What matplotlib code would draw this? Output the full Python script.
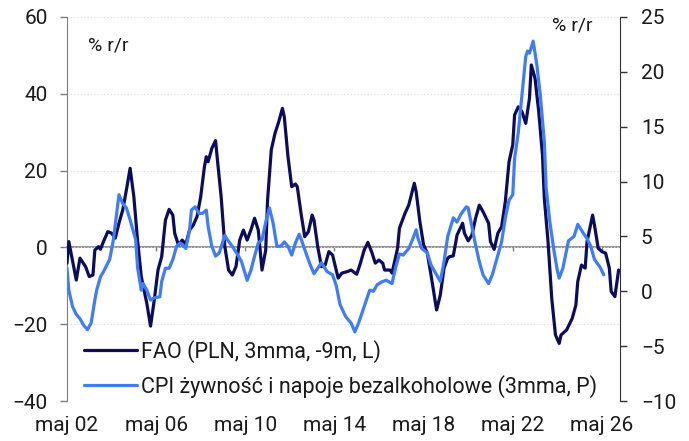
import matplotlib
matplotlib.use("Agg")
import matplotlib.pyplot as plt

# data ------------------------------------------------------------------------
# x = months counted from May 2002 (left edge of the chart)
fao_month = [
    0, 1, 5, 7, 10, 12, 14, 15, 17, 18, 20, 22, 24, 26, 28, 30, 32, 34, 36, 38,
    40, 43, 45, 47, 49, 51, 53, 55, 57, 58, 60, 62, 64, 66, 68, 70, 72, 74, 75,
    76, 78, 80, 81, 83, 85, 87, 89, 91, 93, 95, 97, 99, 101, 103, 105, 107, 108,
    110, 112, 114, 116, 117, 119, 121, 123, 124, 126, 128, 130, 132, 133, 135,
    137, 139, 141, 143, 146, 148, 151, 153, 156, 158, 160, 162, 164, 166, 168,
    170, 171, 174, 175, 178, 179, 182, 184, 187, 188, 190, 192, 194, 196, 199,
    201, 203, 205, 206, 208, 210, 213, 214, 216, 218, 220, 222, 224, 227, 228,
    230, 232, 234, 236, 238, 240, 241, 243, 245, 247, 249, 250, 252, 254, 256,
    257, 259, 261, 263, 265, 266, 269, 272, 274, 275, 277, 279, 280, 283, 284,
    286, 288, 290, 292, 293, 295, 297,
]
fao_value = [
    -4.1, 1.5, -8.5, -2.8, -5.0, -7.6, -7.2, -0.7, 0.2, -0.5, 1.9, 4.1, 3.7, 2.4,
    6.3, 9.7, 15.0, 20.6, 13.2, 1.9, -7.6, -14.6, -20.5, -13.7, -5.9, -2.4, 7.1,
    9.9, 8.4, 3.7, 0.6, 1.9, 0.9, 4.5, 5.8, 8.0, 13.2, 21.0, 23.6, 22.3, 25.8,
    27.8, 22.8, 13.2, 0.2, -5.9, -7.2, -5.0, 1.9, 4.5, 1.9, 4.5, 7.6, 4.5, -5.9,
    -0.7, 12.3, 25.4, 29.7, 32.7, 36.2, 34.0, 23.6, 15.8, 16.5, 15.8, 8.9, 2.8,
    4.1, 8.4, 7.1, 0.2, -5.0, -4.6, -1.1, -2.0, -8.0, -6.7, -6.3, -5.9, -7.0,
    -4.1, -0.7, 1.3, -1.1, -4.1, -3.3, -4.1, -5.9, -5.9, -6.7, -0.2, 5.0, 8.9,
    11.0, 16.7, 14.5, 6.7, 0.6, -1.5, -7.2, -16.3, -12.4, -5.4, -2.8, -2.4, -2.2,
    3.2, 6.3, 3.7, 1.7, 3.2, 7.6, 11.0, 9.3, 6.3, 1.5, -0.5, 3.7, 5.4, 11.9,
    22.3, 26.7, 34.5, 36.6, 35.3, 32.3, 38.8, 47.5, 44.0, 35.3, 24.1, 12.8, 1.5,
    -13.3, -22.8, -25.0, -22.8, -21.5, -18.5, -15.0, -8.9, -4.6, -5.4, 1.5, 8.4,
    5.8, -0.2, -1.1, -1.5, -5.4, -11.5, -12.8, -5.9,
]

cpi_month = [
    0, 1, 3, 5, 7, 9, 11, 13, 15, 16, 18, 20, 23, 25, 27, 28, 30, 32, 34, 37, 38,
    40, 41, 43, 45, 47, 50, 51, 53, 55, 57, 59, 61, 64, 66, 67, 69, 71, 73, 75,
    76, 78, 80, 82, 85, 86, 89, 92, 94, 97, 99, 101, 103, 105, 107, 109, 111,
    113, 115, 117, 119, 121, 123, 125, 126, 128, 131, 133, 135, 137, 140, 143,
    145, 147, 150, 153, 155, 157, 159, 161, 163, 165, 167, 170, 172, 175, 177,
    179, 181, 184, 186, 188, 189, 191, 194, 196, 199, 201, 203, 205, 208, 210,
    212, 215, 216, 218, 220, 222, 224, 227, 229, 231, 234, 236, 238, 240, 241,
    243, 245, 247, 248, 249, 251, 253, 255, 257, 258, 260, 262, 264, 265, 267,
    269, 270, 273, 275, 278, 280, 282, 284, 287, 289,
]
cpi_value = [
    2.1, 0.1, -1.4, -2.1, -2.5, -3.1, -3.5, -2.9, -0.8, 0.1, 1.3, 1.9, 2.9, 4.7,
    7.4, 8.8, 8.0, 7.6, 6.5, 4.7, 2.2, 0.1, 0.7, 0.1, -0.8, -0.6, -0.5, 0.9, 2.1,
    2.1, 2.9, 4.1, 4.4, 3.9, 5.6, 7.4, 7.7, 7.1, 7.1, 7.4, 5.9, 4.1, 3.2, 3.5,
    5.1, 4.8, 4.1, 3.3, 2.7, 1.0, 1.9, 3.2, 4.4, 4.7, 6.3, 7.6, 6.2, 4.1, 4.1,
    4.5, 4.1, 3.3, 4.4, 5.2, 4.8, 3.8, 2.4, 1.6, 2.1, 2.6, 1.8, 1.5, 0.5, -1.2,
    -2.3, -2.9, -3.7, -2.9, -1.9, -0.9, 0.1, 0.0, 0.6, 0.9, 1.0, 0.7, 2.2, 3.4,
    3.3, 3.9, 4.7, 5.6, 4.8, 3.9, 3.5, 2.4, 1.5, 0.9, 2.7, 5.0, 6.7, 6.3, 7.0,
    7.7, 7.6, 5.9, 4.2, 2.7, 1.5, 0.7, 1.5, 2.7, 4.5, 6.7, 8.3, 8.8, 12.1, 14.5,
    17.9, 21.4, 21.9, 21.7, 22.8, 20.6, 17.6, 13.6, 9.4, 6.3, 3.9, 1.9, 1.2, 2.1,
    3.8, 4.6, 5.0, 6.1, 5.3, 4.8, 4.1, 2.9, 2.2, 1.5,
]

tick_month = [0, 48, 96, 144, 192, 240, 288]
tick_labels = ["maj 02", "maj 06", "maj 10", "maj 14", "maj 18", "maj 22", "maj 26"]

label_fao = "FAO (PLN, 3mma, -9m, L)"
label_cpi = "CPI żywność i napoje bezalkoholowe (3mma, P)"

# style -----------------------------------------------------------------------
plt.rcParams["font.family"] = ["Roboto", "DejaVu Sans"]
navy = "#0b0c5c"
blue = "#3f7cf6"
text_col = "#1a1a1a"

fig = plt.figure(figsize=(6.89, 4.41), dpi=100)
ax = fig.add_axes([0.0972, 0.0907, 0.8028, 0.8708])
ax2 = ax.twinx()

ax.plot(fao_month, fao_value, color=navy, lw=2.3, label=label_fao, zorder=3,
        solid_joinstyle="round", solid_capstyle="round")
ax2.plot(cpi_month, cpi_value, color=blue, lw=2.3, label=label_cpi, zorder=3,
         solid_joinstyle="round", solid_capstyle="round")

ax.set_xlim(0, 297.8)
ax.set_ylim(-40, 60)
ax.set_yticks(range(-40, 61, 20))
ax2.set_ylim(-10, 25)
ax2.set_yticks(range(-10, 26, 5))

# grid on the left scale
ax.grid(axis="y", color="#dcdcdc", lw=0.8, ls=(0, (1, 2)))
ax.set_axisbelow(True)

# spines
for a in (ax, ax2):
    a.spines["top"].set_visible(False)
    a.spines["bottom"].set_visible(False)
ax.spines["right"].set_visible(False)
ax.spines["left"].set_color("#7f7f7f")
ax2.spines["left"].set_visible(False)
ax2.spines["right"].set_color("#333333")

ax.tick_params(axis="y", direction="out", length=5, width=1, color="#7f7f7f",
               labelsize=15, labelcolor=text_col, pad=9)
ax2.tick_params(axis="y", direction="out", length=5, width=1, color="#333333",
                labelsize=15, labelcolor=text_col, pad=10)

# date labels at the bottom, no ticks
ax.set_xticks(tick_month)
ax.set_xticklabels(tick_labels)
ax.tick_params(axis="x", length=0, labelsize=15, labelcolor=text_col, pad=11)

# zero line with small ticks (0 sits at 40% of the left scale)
zero = ax.secondary_xaxis(0.4)
zero.set_xticks(tick_month)
zero.set_xticklabels([])
zero.spines["bottom"].set_color("#7f7f7f")
zero.spines["bottom"].set_linewidth(1.2)
zero.tick_params(axis="x", direction="out", length=3, width=1, color="#7f7f7f")

ax.text(0.038, 0.925, "% r/r", transform=ax.transAxes, fontsize=14,
        color=text_col, va="center")
ax2.text(0.95, 0.978, "% r/r", transform=ax2.transAxes, fontsize=14,
         color=text_col, va="center", ha="right")

h1, l1 = ax.get_legend_handles_labels()
h2, l2 = ax2.get_legend_handles_labels()
ax2.legend(h1 + h2, l1 + l2, loc="lower left", bbox_to_anchor=(0.031, 0.008),
           frameon=False, fontsize=15.5, handlelength=2.45, handletextpad=0.2,
           labelspacing=0.55, borderaxespad=0, borderpad=0,
           labelcolor=text_col)

fig.savefig("out.png", dpi=100)
